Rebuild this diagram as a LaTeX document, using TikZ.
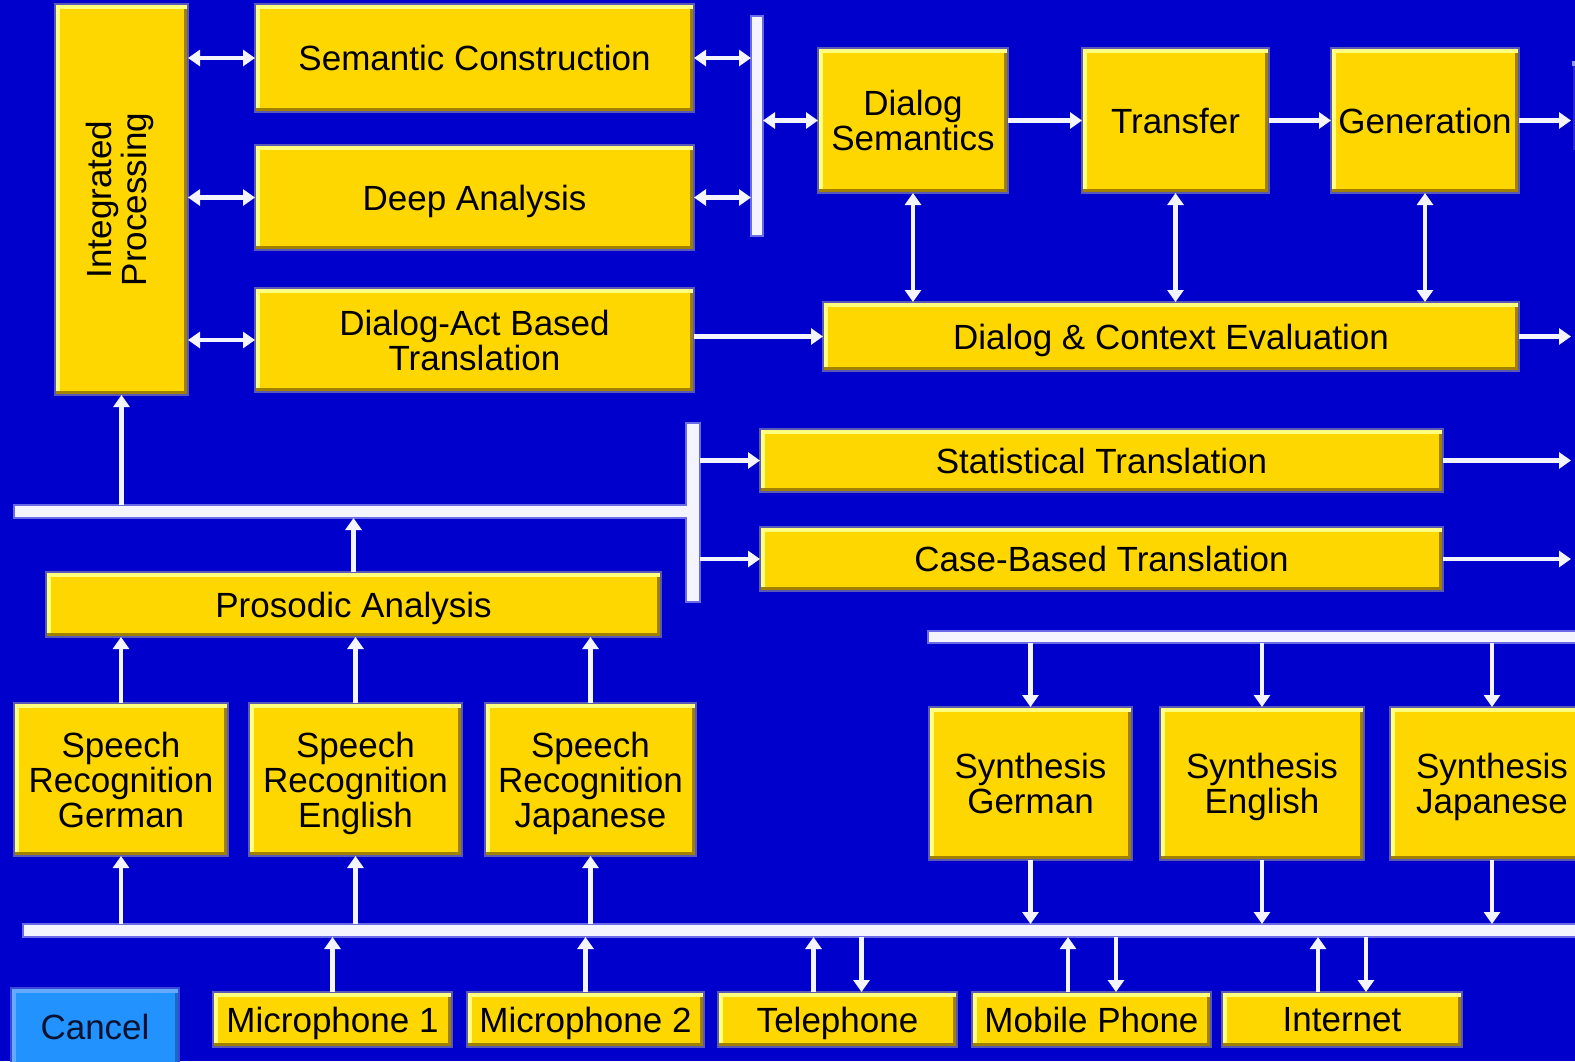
\documentclass[tikz,border=0pt]{standalone}
\usepackage{fontspec}
\usepackage{graphicx}
\setmainfont{Liberation Sans}
\usetikzlibrary{arrows.meta}
\definecolor{bg}{HTML}{0000CC}
\definecolor{yel}{HTML}{FFD700}
\definecolor{hlc}{HTML}{FFFF80}
\definecolor{shc}{HTML}{A08000}
\definecolor{edgec}{HTML}{5A5AB4}
\definecolor{wht}{HTML}{F4F4FF}
\definecolor{baredge}{HTML}{6A6AE6}
\definecolor{cbl}{HTML}{2292FF}
\definecolor{cblh}{HTML}{64AAFF}
\definecolor{cbls}{HTML}{1A6AC8}
\definecolor{cbledge}{HTML}{3A4AD8}
\definecolor{cbltext}{HTML}{0A1230}
\newcommand\lbl{\fontsize{35}{35}\selectfont}
\begin{document}
\begin{tikzpicture}[x=1pt,y=-1pt,
  >={Triangle[width=16pt,length=12pt]},
  ybox/.style={rectangle, fill=yel, draw=edgec, line width=2.5pt, inner sep=0pt, outer sep=0pt,
    align=center, font=\lbl, text=black, text depth=0pt,
    path picture={
      \fill[hlc] (path picture bounding box.south west) rectangle ([xshift=4.5pt]path picture bounding box.north west);
      \fill[hlc] ([yshift=-4.5pt]path picture bounding box.north west) rectangle (path picture bounding box.north east);
      \fill[shc] ([xshift=-4.5pt,yshift=-4.5pt]path picture bounding box.north east) rectangle (path picture bounding box.south east);
      \fill[shc] (path picture bounding box.south west) rectangle ([yshift=4.5pt]path picture bounding box.south east);
    }},
  cancelbox/.style={rectangle, fill=cbl, draw=cbledge, line width=2.5pt, inner sep=0pt, outer sep=0pt,
    align=center, font=\lbl, text=cbltext, text depth=0pt,
    path picture={
      \fill[cblh] (path picture bounding box.south west) rectangle ([xshift=4.5pt]path picture bounding box.north west);
      \fill[cblh] ([yshift=-4.5pt]path picture bounding box.north west) rectangle (path picture bounding box.north east);
      \fill[cbls] ([xshift=-4.5pt,yshift=-4.5pt]path picture bounding box.north east) rectangle (path picture bounding box.south east);
    }},
  busbar/.style={rectangle, fill=wht, draw=baredge, line width=1.5pt, inner sep=0pt, outer sep=0pt},
  conn/.style={draw=wht, line width=4.5pt},
]
\clip (0,0) rectangle (1575,1061);
\fill[bg] (0,0) rectangle (1575,1061);
% faint edge of something cut off at the right
\fill[wht!60!bg] (1572,61) rectangle (1575,66);
\fill[bg!85!white] (1573,66) rectangle (1575,150);

% ---------- boxes ----------
\node[ybox, minimum width=133pt, minimum height=391pt] (IP) at (121.5,199.5)
  {\rotatebox{90}{\begin{tabular}{@{}c@{}}Integrated\\Processing\end{tabular}}};
\node[ybox, minimum width=439pt, minimum height=108pt] (SC) at (474.5,58) {Semantic Construction};
\node[ybox, minimum width=439pt, minimum height=105pt] (DA) at (474.5,197.5) {Deep Analysis};
\node[ybox, minimum width=439pt, minimum height=104pt] (DAT) at (474.5,340) {Dialog-Act Based\\Translation};
\node[ybox, minimum width=190pt, minimum height=145pt] (DS) at (913,120.5) {Dialog\\Semantics};
\node[ybox, minimum width=187pt, minimum height=145pt] (TR) at (1175.5,120.5) {Transfer};
\node[ybox, minimum width=188pt, minimum height=145pt] (GEN) at (1425,120.5) {Generation};
\node[ybox, minimum width=696pt, minimum height=69pt] (DCE) at (1171,336.5) {Dialog \& Context Evaluation};
\node[ybox, minimum width=683pt, minimum height=63pt] (ST) at (1101.5,460.5) {Statistical Translation};
\node[ybox, minimum width=683pt, minimum height=64pt] (CB) at (1101.5,559) {Case-Based Translation};
\node[ybox, minimum width=615pt, minimum height=65pt] (PA) at (353.5,604.5) {Prosodic Analysis};
\node[ybox, minimum width=214pt, minimum height=153pt] (SRG) at (121,779.5) {Speech\\Recognition\\German};
\node[ybox, minimum width=213pt, minimum height=153pt] (SRE) at (355.5,779.5) {Speech\\Recognition\\English};
\node[ybox, minimum width=211pt, minimum height=153pt] (SRJ) at (590.5,779.5) {Speech\\Recognition\\Japanese};
\node[ybox, minimum width=203pt, minimum height=153pt] (SYG) at (1030.5,783.5) {Synthesis\\German};
\node[ybox, minimum width=204pt, minimum height=153pt] (SYE) at (1262,783.5) {Synthesis\\English};
\node[ybox, minimum width=204pt, minimum height=153pt] (SYJ) at (1492,783.5) {Synthesis\\Japanese};
\node[ybox, minimum width=239pt, minimum height=55pt] (M1) at (332.5,1019.5) {Microphone 1};
\node[ybox, minimum width=237pt, minimum height=55pt] (M2) at (585.5,1019.5) {Microphone 2};
\node[ybox, minimum width=239pt, minimum height=55pt] (TEL) at (837.5,1019.5) {Telephone};
\node[ybox, minimum width=239pt, minimum height=55pt] (MOB) at (1091.5,1019.5) {Mobile Phone};
\node[ybox, minimum width=240pt, minimum height=55pt] (INT) at (1342,1019.5) {Internet};
\node[cancelbox, minimum width=168pt, minimum height=78pt] (CAN) at (95,1027) {Cancel};

% ---------- bars ----------
\node[busbar, minimum width=12pt, minimum height=220pt] (VB1) at (757,126) {};
\node[busbar, minimum width=679pt, minimum height=13pt] (HB1) at (353.5,511.5) {};
\node[busbar, minimum width=14pt, minimum height=179pt] (VB2) at (693,512.5) {};
\fill[wht] (684,506) rectangle (690,517);
\node[busbar, minimum width=672pt, minimum height=12pt] (HB2) at (1264,637) {};
\node[busbar, minimum width=1577pt, minimum height=13pt] (BUS) at (811.5,930.5) {};

% ---------- helper coordinates ----------
\coordinate (edgeR) at (1571,0);
\coordinate (telU) at ([xshift=-24pt]TEL.north);
\coordinate (telD) at ([xshift=24pt]TEL.north);
\coordinate (mobU) at ([xshift=-23.5pt]MOB.north);
\coordinate (mobD) at ([xshift=24.5pt]MOB.north);
\coordinate (intU) at ([xshift=-24pt]INT.north);
\coordinate (intD) at ([xshift=24pt]INT.north);

% ---------- connectors ----------
\draw[conn,<->] (IP.east |- SC.west) -- (SC.west);
\draw[conn,<->] (IP.east |- DA.west) -- (DA.west);
\draw[conn,<->] (IP.east |- DAT.west) -- (DAT.west);
\draw[conn,<->] (SC.east) -- (SC.east -| VB1.west);
\draw[conn,<->] (DA.east) -- (DA.east -| VB1.west);
\draw[conn,<->] (VB1.east |- DS.west) -- (DS.west);
\draw[conn,->] (DS.east) -- (TR.west);
\draw[conn,->] (TR.east) -- (GEN.west);
\draw[conn,->] (GEN.east) -- (GEN.east -| edgeR);
\draw[conn,<->] (DS.south) -- (DS.south |- DCE.north);
\draw[conn,<->] (TR.south) -- (TR.south |- DCE.north);
\draw[conn,<->] (GEN.south) -- (GEN.south |- DCE.north);
\draw[conn,->] (DAT.east |- DCE.west) -- (DCE.west);
\draw[conn,->] (DCE.east) -- (DCE.east -| edgeR);
\draw[conn,->] (IP.south |- HB1.north) -- (IP.south);
\draw[conn,->] (PA.north) -- (PA.north |- HB1.south);
\draw[conn,->] (VB2.east |- ST.west) -- (ST.west);
\draw[conn,->] (VB2.east |- CB.west) -- (CB.west);
\draw[conn,->] (ST.east) -- (ST.east -| edgeR);
\draw[conn,->] (CB.east) -- (CB.east -| edgeR);
\foreach \s in {SRG,SRE,SRJ}{
  \draw[conn,->] (\s.north) -- (\s.north |- PA.south);
  \draw[conn,->] (\s.south |- BUS.north) -- (\s.south);
}
\foreach \s in {SYG,SYE,SYJ}{
  \draw[conn,->] (\s.north |- HB2.south) -- (\s.north);
  \draw[conn,->] (\s.south) -- (\s.south |- BUS.north);
}
\draw[conn,->] (M1.north) -- (M1.north |- BUS.south);
\draw[conn,->] (M2.north) -- (M2.north |- BUS.south);
\draw[conn,->] (telU) -- (telU |- BUS.south);
\draw[conn,->] (telD |- BUS.south) -- (telD);
\draw[conn,->] (mobU) -- (mobU |- BUS.south);
\draw[conn,->] (mobD |- BUS.south) -- (mobD);
\draw[conn,->] (intU) -- (intU |- BUS.south);
\draw[conn,->] (intD |- BUS.south) -- (intD);
\end{tikzpicture}
\end{document}
